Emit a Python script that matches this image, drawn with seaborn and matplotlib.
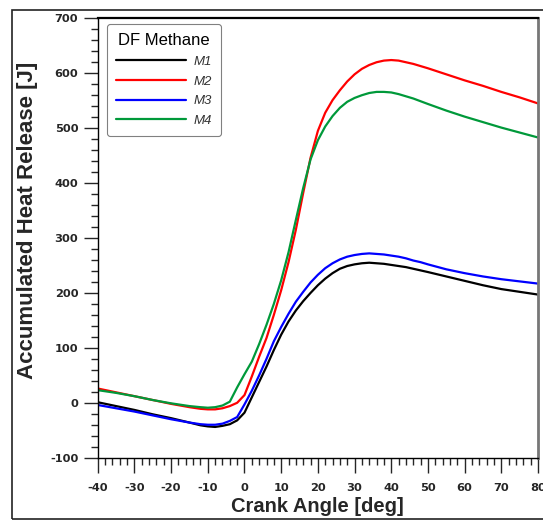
import numpy as np
import pandas as pd
import matplotlib
matplotlib.use("Agg")
import matplotlib.pyplot as plt
from matplotlib.patches import Rectangle
from matplotlib.ticker import MultipleLocator
import seaborn as sns

# Crank angle samples [deg]
crank_angle = [-40, -35, -30, -25, -20, -15, -12, -10, -8, -6, -4, -2, 0, 2, 4, 6, 8,
               10, 12, 14, 16, 18, 20, 22, 24, 26, 28, 30, 32, 34, 36, 38, 40, 42, 44,
               46, 48, 50, 55, 60, 65, 70, 75, 80]

# Accumulated heat release [J] for each methane case
m1 = [1, -6, -13, -21, -28, -36, -41, -43, -44, -42, -39, -32, -18, 10, 38, 66, 96,
      124, 148, 168, 185, 200, 214, 226, 236, 244, 249, 252, 254, 255, 254, 253, 251, 249, 247,
      244, 241, 238, 230, 222, 214, 207, 202, 197]
m2 = [26, 19, 12, 5, -2, -8, -11, -12, -12, -10, -6, 0, 14, 48, 84, 118, 160,
      205, 256, 315, 382, 446, 495, 528, 551, 569, 585, 598, 608, 615, 620, 623, 624, 623, 620,
      617, 613, 609, 598, 587, 577, 566, 556, 545]
m3 = [-4, -10, -16, -23, -30, -36, -39, -40, -40, -38, -33, -26, -3, 22, 50, 80, 112,
      138, 162, 184, 202, 219, 233, 245, 254, 261, 266, 269, 271, 272, 271, 270, 268, 266, 263,
      259, 256, 252, 243, 236, 230, 225, 221, 217]
m4 = [23, 18, 12, 5, -1, -6, -8, -9, -8, -5, 2, 28, 52, 75, 107, 142, 180,
      223, 274, 333, 391, 443, 478, 503, 522, 537, 548, 555, 560, 564, 566, 566, 565, 562, 558,
      554, 549, 544, 532, 521, 511, 501, 492, 483]

series_names = ["M1", "M2", "M3", "M4"]
series_colors = ["#000000", "#ff0000", "#0000ff", "#00993a"]

df = pd.concat(
    [pd.DataFrame({"Crank Angle": crank_angle, "Heat Release": vals, "Case": name})
     for name, vals in zip(series_names, [m1, m2, m3, m4])],
    ignore_index=True,
)

sns.set_style("white")
plt.rcParams["font.family"] = ["Liberation Sans", "DejaVu Sans"]
plt.rcParams["axes.unicode_minus"] = False

fig = plt.figure(figsize=(5.43, 5.20), dpi=100)
ax = fig.add_axes([0.18, 0.1198, 0.8108, 0.845])

sns.lineplot(data=df, x="Crank Angle", y="Heat Release", hue="Case",
             palette=dict(zip(series_names, series_colors)), linewidth=1.6,
             ax=ax, sort=False)

ax.set_xlim(-40, 80)
ax.set_ylim(-100, 700)
ax.xaxis.set_major_locator(MultipleLocator(10))
ax.xaxis.set_minor_locator(MultipleLocator(2))
ax.yaxis.set_major_locator(MultipleLocator(100))
ax.yaxis.set_minor_locator(MultipleLocator(20))

ax.tick_params(axis="y", which="major", direction="out", length=10, width=1.0,
               pad=4, left=True)
ax.tick_params(axis="y", which="minor", direction="out", length=5, width=1.0, left=True)
ax.tick_params(axis="x", which="major", direction="out", length=11, width=1.0,
               pad=7, bottom=True)
ax.tick_params(axis="x", which="minor", direction="out", length=5, width=1.0, bottom=True)
for lab in ax.get_xticklabels() + ax.get_yticklabels():
    lab.set_fontfamily("DejaVu Sans")
    lab.set_fontsize(8.2)
    lab.set_fontweight("bold")

ax.set_xlabel("Crank Angle [deg]", fontsize=14.5, fontweight="bold", labelpad=3)
ax.set_ylabel("Accumulated Heat Release [J]", fontsize=16, fontweight="bold")
ax.yaxis.set_label_coords(-0.136, 0.541)

for side in ["left", "bottom"]:
    ax.spines[side].set_color("black")
    ax.spines[side].set_linewidth(1.0)
ax.spines["top"].set_color("black")
ax.spines["top"].set_linewidth(1.6)
ax.spines["right"].set_color("#777777")
ax.spines["right"].set_linewidth(2.0)

leg = ax.legend(title="DF Methane", loc="upper left", bbox_to_anchor=(0.021, 0.987),
                borderaxespad=0, frameon=True, fancybox=True, handlelength=5.3,
                fontsize=9.5, title_fontsize=12, labelspacing=0.56, borderpad=0.7,
                handletextpad=0.55)
leg.get_frame().set_edgecolor("#808080")
leg.get_frame().set_linewidth(0.8)
leg.get_frame().set_alpha(1)
leg.get_title().set_color("black")
for t in leg.get_texts():
    t.set_fontstyle("italic")
    t.set_color("#333333")

# Outer border around the figure
fig.patches.append(Rectangle((12 / 543, 1.5 / 520), 1.2, 509 / 520,
                             transform=fig.transFigure, fill=False,
                             edgecolor="#222222", linewidth=1.2))

fig.savefig("out.png", dpi=100)
